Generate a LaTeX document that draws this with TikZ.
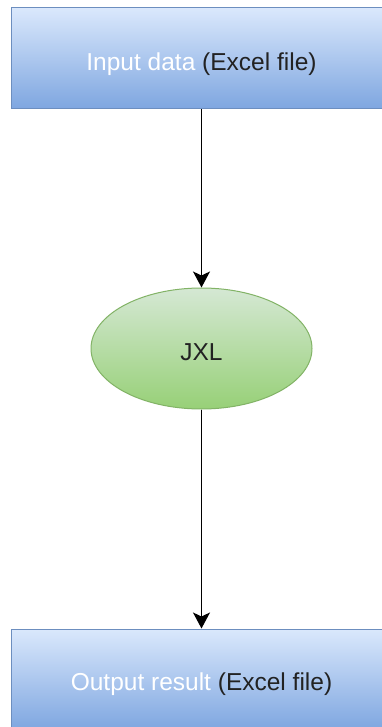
\documentclass[tikz,border=0pt]{standalone}
\usepackage{fontspec}
\setmainfont{Liberation Sans}
\usetikzlibrary{shapes.geometric,arrows.meta}
\definecolor{boxtop}{HTML}{DAE8FC}
\definecolor{boxbot}{HTML}{7EA6E0}
\definecolor{boxline}{HTML}{6C8EBF}
\definecolor{elltop}{HTML}{D5E8D4}
\definecolor{ellbot}{HTML}{97D077}
\definecolor{ellline}{HTML}{82B366}
\definecolor{darktext}{HTML}{222222}
\tikzset{
  databox/.style={rectangle, draw=boxline, line width=1pt,
    top color=boxtop, bottom color=boxbot,
    minimum width=381pt, minimum height=101pt, inner sep=0pt,
    font=\fontsize{24.5}{28}\selectfont, text=darktext},
  procnode/.style={ellipse, draw=ellline, line width=1pt,
    top color=elltop, bottom color=ellbot,
    minimum width=221pt, minimum height=121pt, inner sep=0pt,
    font=\fontsize{24.5}{28}\selectfont, text=darktext},
  flow/.style={draw=black, line width=1.6pt,
    -{Stealth[length=16pt,width=17pt,inset=4pt]}}
}
% label whose baseline sits a fixed distance below the node centre
\newcommand{\lowlabel}[2]{\raisebox{-#1}[0pt][0pt]{#2}}
\begin{document}
\begin{tikzpicture}[x=1pt,y=-1pt]
  \clip (0,0) rectangle (382,727);
  \fill[white] (0,0) rectangle (382,727);
  \node[databox] (input) at (201.5,58.5)
    {\lowlabel{12pt}{\textcolor{white}{Input data} (Excel file)}};
  \node[procnode] (jxl) at (201.5,348.5) {\lowlabel{12pt}{JXL}};
  \node[databox] (output) at (201.5,679.5)
    {\lowlabel{11pt}{\textcolor{white}{Output result} (Excel file)}};
  \draw[flow] (input) -- (jxl);
  \draw[flow] (jxl) -- (output);
\end{tikzpicture}
\end{document}
